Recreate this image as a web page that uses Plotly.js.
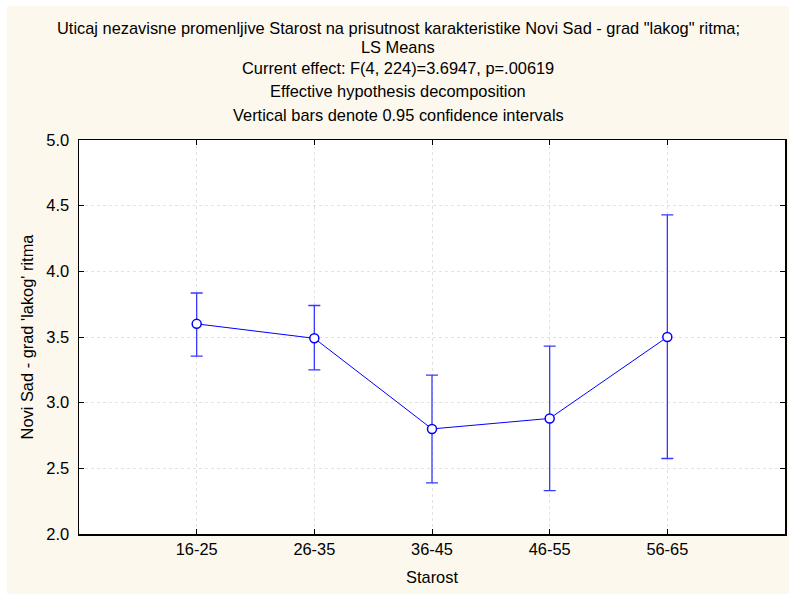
<!DOCTYPE html>
<html>
<head>
<meta charset="utf-8">
<script src="https://cdn.plot.ly/plotly-3.0.1.min.js"></script>
<style>
html,body{margin:0;padding:0;background:#ffffff;width:789px;height:594px;overflow:hidden;}
#chart{position:absolute;left:7px;top:6px;width:782px;height:588px;}
</style>
</head>
<body>
<div id="chart"></div>
<script>
var categories = ["16-25", "26-35", "36-45", "46-55", "56-65"];
var means = [3.60, 3.49, 2.80, 2.88, 3.50];
var upper = [3.835, 3.74, 3.21, 3.43, 4.43];
var lower = [3.355, 3.25, 2.39, 2.33, 2.575];
var yTicks = [2.0, 2.5, 3.0, 3.5, 4.0, 4.5, 5.0];
var titleLines = [
  "Uticaj nezavisne promenljive Starost na prisutnost karakteristike Novi Sad - grad \"lakog\" ritma;",
  "LS Means",
  "Current effect: F(4, 224)=3.6947, p=.00619",
  "Effective hypothesis decomposition",
  "Vertical bars denote 0.95 confidence intervals"
];
var xTitle = "Starost";
var yTitle = "Novi Sad - grad 'lakog' ritma";

var errPlus = upper.map(function(u, i){ return u - means[i]; });
var errMinus = lower.map(function(l, i){ return means[i] - l; });

var trace = {
  x: categories,
  y: means,
  type: "scatter",
  mode: "lines+markers",
  line: {color: "#0000ff", width: 1},
  marker: {symbol: "circle", size: 9, color: "#ffffff", line: {color: "#0000ff", width: 1.5}},
  error_y: {type: "data", symmetric: false, array: errPlus, arrayminus: errMinus,
            color: "#3838ff", thickness: 1.3, width: 6},
  hoverinfo: "none"
};

var font = "Liberation Sans, Arial, sans-serif";
var lineY = [27.5, 47.5, 68.5, 91, 115];
var annotations = titleLines.map(function(t, i){
  var py = lineY[i] - 6;
  var plotTop = 134, plotH = 394;
  return {
    text: t, xref: "paper", yref: "paper",
    x: (391 - 72) / 706, y: (plotTop + plotH - py) / plotH,
    xanchor: "center", yanchor: "middle", showarrow: false,
    font: {family: font, size: 16.4, color: "#000000"}
  };
});

var layout = {
  width: 782, height: 588,
  margin: {l: 72, r: 4, t: 134, b: 60, pad: 0},
  paper_bgcolor: "#fdf8ed",
  plot_bgcolor: "#ffffff",
  showlegend: false,
  font: {family: font, size: 16, color: "#000000"},
  xaxis: {
    type: "category",
    range: [-1, 5],
    showline: true, linecolor: "#000000", linewidth: 1.5, mirror: "ticks",
    ticks: "inside", ticklen: 5, tickcolor: "#000000",
    showgrid: true, gridcolor: "#e2e2e2", griddash: "dot", gridwidth: 1,
    zeroline: false,
    tickfont: {family: font, size: 16.4, color: "#000000"},
    title: {text: xTitle, font: {family: font, size: 16.4, color: "#000000"}, standoff: 14}
  },
  yaxis: {
    range: [2.0, 5.0],
    tickvals: yTicks,
    ticktext: yTicks.map(function(v){ return v.toFixed(1); }),
    showline: true, linecolor: "#000000", linewidth: 1.5, mirror: "ticks",
    ticks: "inside", ticklen: 5, tickcolor: "#000000",
    showgrid: true, gridcolor: "#e2e2e2", griddash: "dot", gridwidth: 1,
    zeroline: false,
    ticklabelstandoff: 5,
    tickfont: {family: font, size: 16.5, color: "#000000"},
    title: {text: yTitle, font: {family: font, size: 16.4, color: "#000000"}, standoff: 8}
  },
  annotations: annotations
};

Plotly.newPlot("chart", [trace], layout, {displayModeBar: false, staticPlot: true});
</script>
</body>
</html>
